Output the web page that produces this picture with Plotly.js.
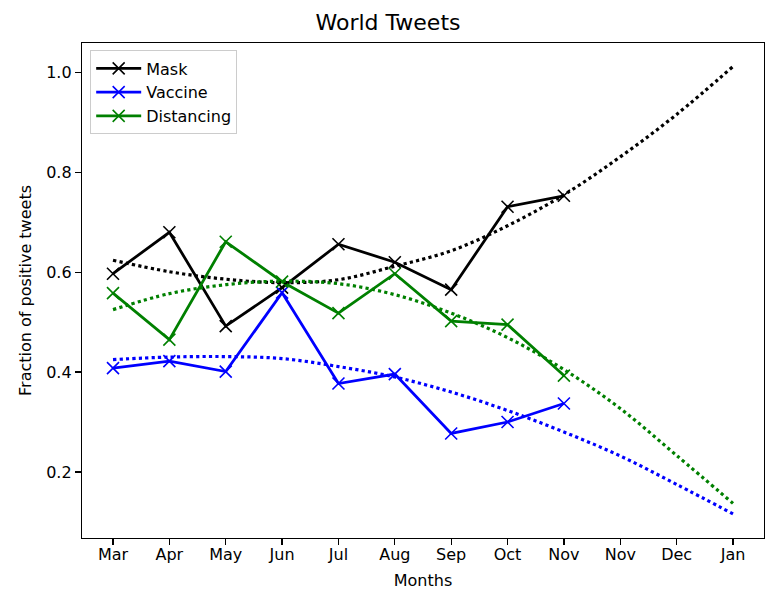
<!DOCTYPE html>
<html>
<head>
<meta charset="utf-8">
<script src="https://cdn.plot.ly/plotly-3.0.1.min.js"></script>
<style>html,body{margin:0;padding:0;background:#fff;}#chart{width:776px;height:596px;}</style>
</head>
<body>
<div id="chart"></div>
<script>
const months = ["Mar","Apr","May","Jun","Jul","Aug","Sep","Oct","Nov","Nov","Dec","Jan"];
const maskValues = [0.597, 0.680, 0.492, 0.569, 0.656, 0.620, 0.565, 0.731, 0.753];
const vaccineValues = [0.408, 0.422, 0.401, 0.559, 0.377, 0.396, 0.277, 0.300, 0.337];
const distancingValues = [0.558, 0.465, 0.661, 0.581, 0.518, 0.597, 0.502, 0.495, 0.393];
const maskTrend = [0.624, 0.601, 0.586, 0.579, 0.585, 0.612, 0.643, 0.693, 0.755, 0.831, 0.916, 1.012];
const vaccineTrend = [0.425, 0.430, 0.431, 0.427, 0.411, 0.390, 0.360, 0.323, 0.280, 0.232, 0.175, 0.116];
const distancingTrend = [0.525, 0.557, 0.575, 0.582, 0.577, 0.555, 0.518, 0.469, 0.405, 0.327, 0.233, 0.137];

const idx = months.map((m, i) => i);
const font = "DejaVu Sans, sans-serif";

function solid(name, ys, color) {
  return {
    x: idx.slice(0, ys.length), y: ys, name: name, type: "scatter", mode: "lines+markers",
    line: {color: color, width: 2.8},
    marker: {symbol: "x-thin", size: 12, line: {color: color, width: 1.6}, color: color}
  };
}
function dotted(ys, color) {
  return {
    x: idx.slice(0, ys.length), y: ys, type: "scatter", mode: "lines", showlegend: false,
    line: {color: color, width: 3.2, dash: "dot", shape: "spline"}, hoverinfo: "skip"
  };
}

const data = [
  solid("Mask", maskValues, "#000000"),
  solid("Vaccine", vaccineValues, "#0000ff"),
  solid("Distancing", distancingValues, "#008000"),
  dotted(maskTrend, "#000000"),
  dotted(vaccineTrend, "#0000ff"),
  dotted(distancingTrend, "#008000")
];

const layout = {
  width: 776, height: 596,
  margin: {l: 82, r: 12, t: 43, b: 58},
  paper_bgcolor: "#fff", plot_bgcolor: "#fff",
  font: {family: font, size: 16, color: "#000"},
  title: {text: "World Tweets", font: {family: font, size: 22, color: "#000"}, x: 0.5, xanchor: "center", y: 0.962, yanchor: "middle"},
  showlegend: true,
  legend: {x: 0.012, y: 0.985, xanchor: "left", yanchor: "top", bgcolor: "rgba(255,255,255,0.9)", bordercolor: "#cccccc", borderwidth: 1, font: {family: font, size: 16, color: "#000"}, tracegroupgap: 0, itemwidth: 45},
  xaxis: {
    range: [-0.55, 11.55], tickmode: "array", tickvals: idx, ticktext: months,
    showgrid: false, zeroline: false, showline: true, mirror: true, linecolor: "#000", linewidth: 1.2,
    ticks: "outside", ticklen: 6, tickwidth: 1.2, tickcolor: "#000", ticklabelstandoff: -4,
    tickfont: {family: font, size: 16, color: "#000"},
    title: {text: "Months", font: {family: font, size: 16, color: "#000"}, standoff: 11}
  },
  yaxis: {
    range: [0.0677, 1.059], tickmode: "linear", tick0: 0, dtick: 0.2, tickformat: ".1f",
    showgrid: false, zeroline: false, showline: true, mirror: true, linecolor: "#000", linewidth: 1.2,
    ticks: "outside", ticklen: 6, tickwidth: 1.2, tickcolor: "#000",
    tickfont: {family: font, size: 16, color: "#000"},
    title: {text: "Fraction of positive tweets", font: {family: font, size: 16, color: "#000"}, standoff: 10}
  }
};

Plotly.newPlot("chart", data, layout, {displayModeBar: false, staticPlot: true});
</script>
</body>
</html>
